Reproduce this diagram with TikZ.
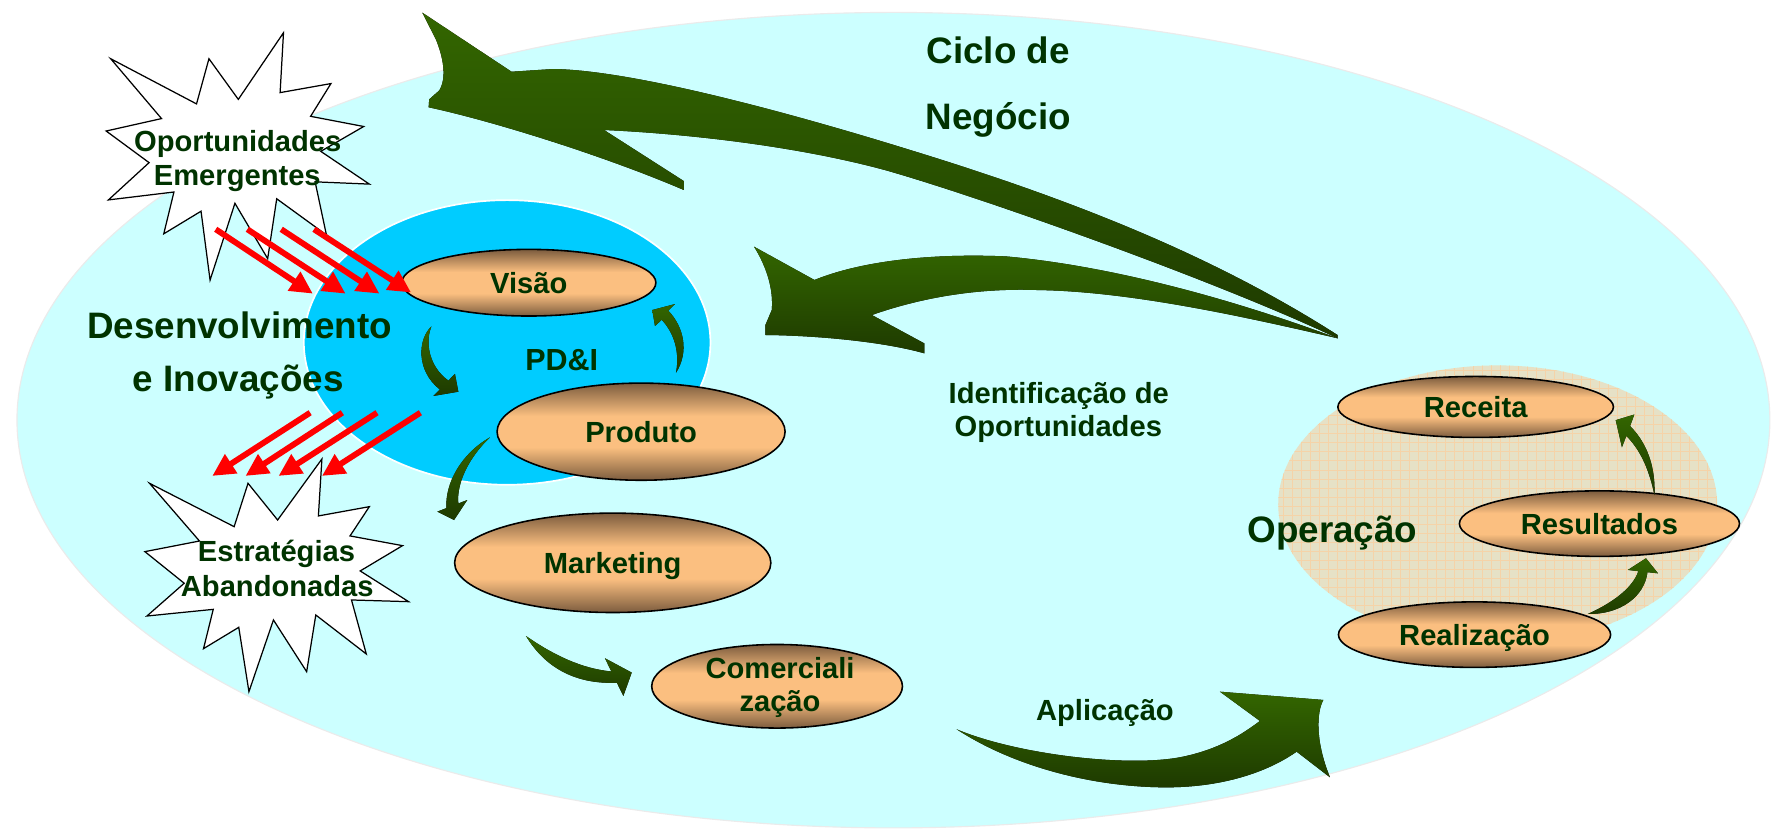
\documentclass[tikz,border=0pt]{standalone}
\usepackage{fontspec}
\setmainfont{Liberation Sans}
\usetikzlibrary{shapes.geometric,arrows.meta}
\definecolor{bigcyan}{HTML}{CCFFFF}
\definecolor{pdblue}{HTML}{00CCFF}
\definecolor{txtgreen}{HTML}{003300}
\definecolor{obrown}{HTML}{7C5C3E}
\definecolor{olight}{HTML}{FBBF80}
\definecolor{gtop}{HTML}{336600}
\definecolor{gbot}{HTML}{1E3A00}
\definecolor{opfill}{HTML}{E6E1C6}
\definecolor{opgrid}{HTML}{F5D3A8}
\pgfdeclareverticalshading{orangeball}{100bp}{color(0bp)=(obrown); color(25bp)=(obrown); color(42bp)=(olight); color(58bp)=(olight); color(75bp)=(obrown); color(100bp)=(obrown)}
\tikzset{
  lbl/.style={font=\fontsize{25.8}{30}\selectfont\bfseries, text=txtgreen, inner sep=0pt, anchor=base},
  biglbl/.style={lbl, font=\fontsize{32.6}{38}\selectfont\bfseries},
  oval/.style={ellipse, draw=black, line width=1.4pt, shade, shading=orangeball, inner sep=0pt,
    font=\fontsize{25.8}{30}\selectfont\bfseries, text=txtgreen, text height=18.5pt, text depth=0pt},
  garrow/.style={top color=gtop, bottom color=gbot, draw=none},
  redarrow/.style={draw=red, line width=5.2pt, -{Triangle[length=20pt,width=19pt]}},
  starshape/.style={fill=white, draw=black, line width=1.1pt, line join=miter},
  gridline/.style={draw=opgrid, line width=0.6pt},
}
\begin{document}
\begin{tikzpicture}[x=1pt, y=-1pt]
\useasboundingbox (0,0) rectangle (1568,735);

% regions
\node[ellipse, fill=bigcyan, draw=white!92!black, line width=1pt, minimum width=1552pt, minimum height=722pt, inner sep=0pt] (cicloarea) at (791,372) {};
\node[ellipse, fill=pdblue, draw=white, line width=1.5pt, minimum width=360pt, minimum height=252pt, inner sep=0pt] (pdiarea) at (449,303.2) {};
\begin{scope}
  \clip (1326,446.5) ellipse [x radius=194.3pt, y radius=123pt];
  \fill[opfill] (1128,320) rectangle (1524,572);
  \foreach \i in {0,...,50} \draw[gridline] ({1128+8*\i},320) -- ({1128+8*\i},572);
  \foreach \j in {0,...,32} \draw[gridline] (1128,{320+8*\j}) -- (1524,{320+8*\j});
\end{scope}

% big green arrows
\fill[garrow] (373.9,11.2) -- (386,35) .. controls (392,50) and (396,68) .. (389,80) -- (380,88) -- (379.5,95)
  .. controls (440,108) and (540,140) .. (605.4,168.2) -- (605.4,160.3) -- (534.8,115.1)
  .. controls (600,118) and (700,128) .. (783.3,150.5)
  .. controls (870,175) and (1080,250) .. (1184.2,299.5) -- (1184.2,296.6)
  .. controls (1080,230) and (960,180) .. (805.8,132.8)
  .. controls (700,100) and (560,62) .. (489.7,61.1) -- (452.9,63.5) -- cycle;
\fill[garrow] (667.6,218.4) .. controls (678,235) and (685,255) .. (683.3,274.5) -- (677.7,287.7) -- (677.7,296.6)
  .. controls (720,297) and (780,302) .. (818.3,312.8) -- (818.3,304) -- (771.9,278.9)
  .. controls (820,262) and (870,255) .. (918.8,256.8)
  .. controls (1000,258) and (1100,280) .. (1184.2,299.5)
  .. controls (1100,268) and (990,236) .. (890.6,227)
  .. controls (820,224) and (760,232) .. (721.1,247.9) -- cycle;
\fill[garrow] (847,645.7) .. controls (900,668) and (1000,680) .. (1047.6,669.9)
  .. controls (1080,663) and (1100,650) .. (1115.5,638.3) -- (1080.1,612.4) -- (1171.6,619.7)
  .. controls (1166,630) and (1164,655) .. (1177.5,688.2) -- (1148,665.5)
  .. controls (1120,685) and (1080,697) .. (1032.9,697.1)
  .. controls (970,697) and (900,680) .. (847,645.7) -- cycle;

% stars
\draw[starshape] (98,52) -- (174,92) -- (185,52) -- (211,88) -- (251,29) -- (248,82) -- (293,74) -- (275,103)
  -- (322,112) -- (284,134) -- (327,163) -- (279,161) -- (289,208) -- (245,176) -- (237,229) -- (208,180)
  -- (186,248) -- (178,187) -- (145,207) -- (154,170) -- (96,177) -- (132,144) -- (94,116) -- (143,105) -- cycle;
\draw[starshape] (132.4,427.9) -- (207.3,466.3) -- (219.6,427.9) -- (245.8,460.4) -- (285,406.4) -- (281.9,456.8)
  -- (327,448.6) -- (309.9,474.5) -- (356.4,483.1) -- (318.9,505.5) -- (361.8,532.7) -- (311.2,531.2)
  -- (324.3,579) -- (279.6,544.5) -- (271.5,594.7) -- (242.1,548.9) -- (220.4,612.4) -- (211.4,555.4)
  -- (180.2,574.3) -- (188.8,539.5) -- (130.1,545.4) -- (163.1,516.4) -- (128.3,488.4) -- (176.6,479) -- cycle;

% texts
\node[biglbl] (ciclo1) at (883.7,56) {Ciclo de};
\node[biglbl] (ciclo2) at (884,115) {Negócio};
\node[biglbl] (des1) at (212,299.5) {Desenvolvimento};
\node[biglbl] (des2) at (211,346.7) {e Inovações};
\node[lbl, font=\fontsize{27}{32}\selectfont\bfseries] (pdi) at (497.3,328.2) {PD\&I};
\node[lbl] (id1) at (937.4,357.1) {Identificação de};
\node[lbl] (id2) at (937,386.6) {Oportunidades};
\node[lbl] (apl) at (978.3,638.3) {Aplicação};
\node[biglbl] (oper) at (1179.6,480.5) {Operação};
\node[lbl] (op1) at (210.5,134.3) {Oportunidades};
\node[lbl] (op2) at (210.1,163.8) {Emergentes};
\node[lbl] (es1) at (244.8,497.3) {Estratégias};
\node[lbl] (es2) at (245.5,528.3) {Abandonadas};

% oval nodes
\node[oval, minimum width=225pt, minimum height=59pt] (visao) at (468.2,250.3) {Visão};
\node[oval, minimum width=255pt, minimum height=86pt] (produto) at (567.6,382.2) {Produto};
\node[oval, minimum width=280pt, minimum height=88pt] (marketing) at (542.5,498.3) {Marketing};
\node[oval, minimum width=222pt, minimum height=74pt] (comerc) at (688,607.6) {};
\node[lbl] (com1) at (690.6,600.6) {Comerciali};
\node[lbl] (com2) at (690.6,630.1) {zação};
\node[oval, minimum width=244pt, minimum height=54pt] (receita) at (1306.5,360.3) {Receita};
\node[oval, minimum width=248pt, minimum height=58pt] (result) at (1416.1,463.6) {Resultados};
\node[oval, minimum width=241pt, minimum height=58pt] (realiz) at (1305.5,561.9) {Realização};

% small green arrows
\fill[garrow] (382,289) .. controls (370,300) and (368,328) .. (389.4,344.8) -- (383.6,350.6) -- (405.8,346.8)
  -- (402.8,331.1) -- (397,337) .. controls (380,325) and (376,303) .. (382,289) -- cycle;
\fill[garrow] (598.5,330) .. controls (610,312) and (606,290) .. (591.6,275) -- (597.6,269.2) -- (577.5,274.5)
  -- (579.9,288.6) -- (585.9,283.1) .. controls (597,295) and (602,312) .. (598.5,330) -- cycle;
\fill[garrow] (433.8,387.2) .. controls (408,402) and (394,428) .. (395.2,449.9) -- (387.2,453) -- (402,460.4)
  -- (413.7,442.7) -- (405.8,445.8) .. controls (404,428) and (415,405) .. (433.8,387.2) -- cycle;
\fill[garrow] (465.7,563.1) .. controls (482,590) and (508,606) .. (546.2,604.5) -- (551.9,616.2) -- (559.3,595.5)
  -- (535.6,582.8) -- (541.3,594.5) .. controls (515,592) and (490,580) .. (465.7,563.1) -- cycle;
\fill[garrow] (1464.8,438.3) .. controls (1466,410) and (1456,390) .. (1443.2,377.2) -- (1447,367) -- (1430.5,372)
  -- (1436,396) -- (1439.9,385.9) .. controls (1452,398) and (1460,415) .. (1464.8,438.3) -- cycle;
\fill[garrow] (1405.8,543.6) .. controls (1425,535) and (1445,522) .. (1450.6,505.7) -- (1441.3,504.6) -- (1457.3,494.3)
  -- (1467.9,507.6) -- (1458.6,506.6) .. controls (1456,528) and (1435,544) .. (1405.8,543.6) -- cycle;

% red arrows
\coordinate (ru1s) at (191,203); \coordinate (ru1e) at (277,260);
\coordinate (ru2s) at (219,203); \coordinate (ru2e) at (306,260);
\coordinate (ru3s) at (249,203); \coordinate (ru3e) at (336,260);
\coordinate (ru4s) at (278,203); \coordinate (ru4e) at (364,259);
\coordinate (rd1s) at (274.6,365.4); \coordinate (rd1e) at (187.9,421.4);
\coordinate (rd2s) at (303.1,365.4); \coordinate (rd2e) at (217.3,421.4);
\coordinate (rd3s) at (333.8,365.4); \coordinate (rd3e) at (246.6,421.4);
\coordinate (rd4s) at (372.2,365.4); \coordinate (rd4e) at (285,421.4);
\foreach \a in {ru1,ru2,ru3,ru4,rd1,rd2,rd3,rd4} \draw[redarrow] (\a s) -- (\a e);
\end{tikzpicture}
\end{document}
